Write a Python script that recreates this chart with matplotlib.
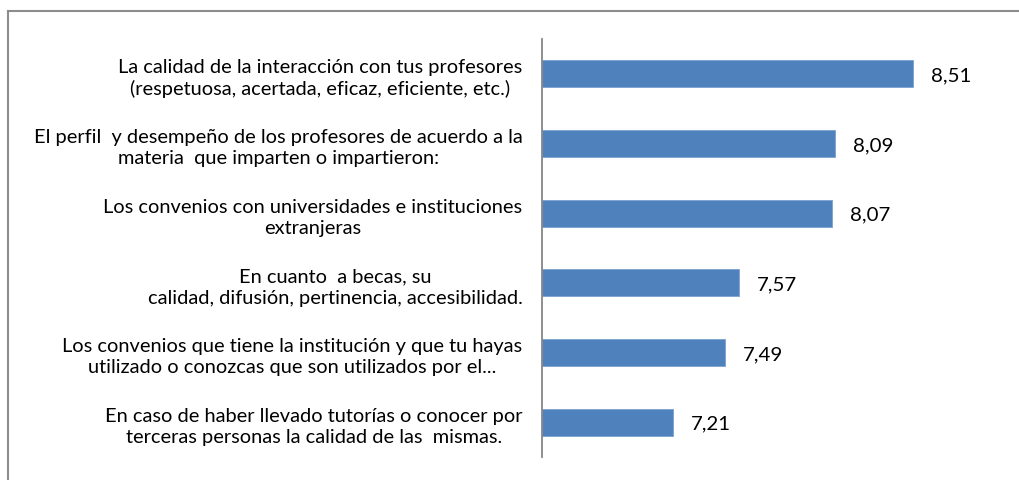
import matplotlib
matplotlib.use("Agg")
import matplotlib.pyplot as plt
from matplotlib.lines import Line2D

categories = [
    "La calidad de la interacción con tus profesores\n(respetuosa, acertada, eficaz, eficiente, etc.)",
    "El perfil  y desempeño de los profesores de acuerdo a la\nmateria  que imparten o impartieron:",
    "Los convenios con universidades e instituciones\nextranjeras",
    "En cuanto  a becas, su\ncalidad, difusión, pertinencia, accesibilidad.",
    "Los convenios que tiene la institución y que tu hayas\nutilizado o conozcas que son utilizados por el...",
    "En caso de haber llevado tutorías o conocer por\nterceras personas la calidad de las  mismas.",
]
values = [8.51, 8.09, 8.07, 7.57, 7.49, 7.21]
value_labels = ["8,51", "8,09", "8,07", "7,57", "7,49", "7,21"]

plt.rcParams['font.family'] = ['Lato', 'DejaVu Sans']

W, H = 1019, 481
fig = plt.figure(figsize=(W / 100, H / 100), dpi=100)
fig.patch.set_facecolor('white')

x0, x1 = 6.5, 9.0
left_px, top_px, bottom_px = 542, 40, 458
right_px = left_px + (x1 - x0) * 184.4
ax = fig.add_axes([left_px / W, 1 - bottom_px / H, (right_px - left_px) / W, (bottom_px - top_px) / H])

ypos = list(range(len(values)))
ax.barh(ypos, [v - x0 for v in values], left=x0, height=0.39, color='#4F81BD',
        edgecolor='#7BA0CF', linewidth=0.6)
ax.set_xlim(x0, x1)
ax.set_ylim(len(values) - 0.5, -0.5)

ax.set_yticks(ypos)
ax.set_yticklabels(categories, fontsize=14.4, linespacing=1.3)
for t in ax.get_yticklabels():
    t.set_multialignment('center')
ax.tick_params(axis='y', length=0, pad=14)
ax.set_xticks([])

for s in ['top', 'right', 'bottom']:
    ax.spines[s].set_visible(False)
ax.spines['left'].set_color('#868686')
ax.spines['left'].set_linewidth(1.3)

for y, v, lab in zip(ypos, values, value_labels):
    ax.annotate(lab, xy=(v, y), xytext=(18, -1), textcoords='offset pixels',
                va='center', ha='left', fontsize=14.7, color='black')

# chart frame border (top and left visible)
fig.add_artist(Line2D([8 / W, 1], [1 - 12 / H, 1 - 12 / H], transform=fig.transFigure,
                      color='#8C8C8C', linewidth=1.5))
fig.add_artist(Line2D([8 / W, 8 / W], [0, 1 - 12 / H], transform=fig.transFigure,
                      color='#8C8C8C', linewidth=1.5))

fig.savefig("out.png", dpi=100)
